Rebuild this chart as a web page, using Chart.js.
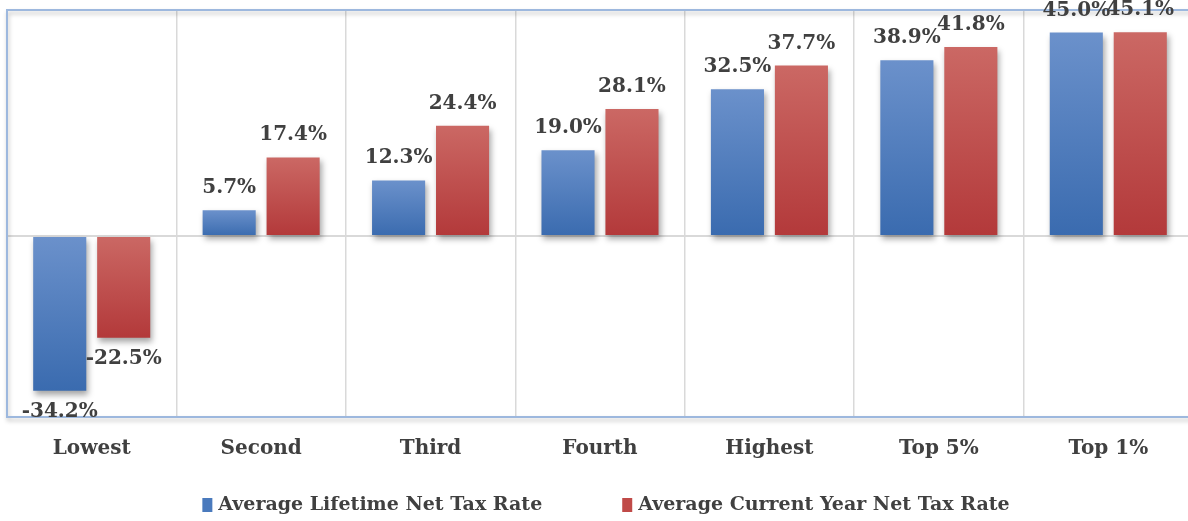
<!DOCTYPE html>
<html>
<head>
<meta charset="utf-8">
<script src="https://cdn.jsdelivr.net/npm/chart.js@4/dist/chart.umd.min.js"></script>
<style>
  html, body { margin: 0; padding: 0; background: #fff; overflow: hidden; }
  #wrap { position: absolute; left: 0; top: 0; width: 1196px; height: 521px; }
</style>
</head>
<body>
<div id="wrap"><canvas id="chart"></canvas></div>
<script>
// income groups
const groups = ['Lowest', 'Second', 'Third', 'Fourth', 'Highest', 'Top 5%', 'Top 1%'];
const seriesNames = ['Average Lifetime Net Tax Rate', 'Average Current Year Net Tax Rate'];
const lifetimeRate = [-34.2, 5.7, 12.3, 19.0, 32.5, 38.9, 45.0];
const currentRate = [-22.5, 17.4, 24.4, 28.1, 37.7, 41.8, 45.1];
const legendColors = ['#4a7abd', '#c04a48'];

const FONT = '"DejaVu Serif", serif';
const TEXT = '#404040';

function barGradient(top, bottom) {
    return function(context) {
        const chart = context.chart;
        const y = chart.scales.y;
        if (!chart.chartArea || !y || context.parsed === undefined) return bottom;
        const v = context.parsed.y;
        const y1 = y.getPixelForValue(Math.max(v, 0));
        const y2 = y.getPixelForValue(Math.min(v, 0));
        if (!isFinite(y1) || !isFinite(y2) || y1 === y2) return bottom;
        const g = chart.ctx.createLinearGradient(0, y1, 0, y2);
        g.addColorStop(0, top);
        g.addColorStop(1, bottom);
        return g;
    };
}

const shadowPlugin = {
    id: 'barShadow',
    beforeDatasetDraw(chart) {
        const ctx = chart.ctx;
        ctx.save();
        ctx.shadowColor = 'rgba(0,0,0,0.35)';
        ctx.shadowBlur = 6;
        ctx.shadowOffsetX = 2;
        ctx.shadowOffsetY = 4;
    },
    afterDatasetDraw(chart) {
        chart.ctx.restore();
    }
};

const framePlugin = {
    id: 'frame',
    beforeDatasetsDraw(chart) {
        const { ctx, chartArea: a } = chart;
        ctx.save();
        ctx.shadowColor = 'rgba(0,0,0,0.25)';
        ctx.shadowBlur = 4;
        ctx.shadowOffsetX = 1;
        ctx.shadowOffsetY = 3;
        ctx.strokeStyle = '#9db8de';
        ctx.lineWidth = 2;
        ctx.strokeRect(a.left, a.top, a.right - a.left, a.bottom - a.top);
        ctx.restore();
    }
};

const labelPlugin = {
    id: 'valueLabels',
    afterDatasetsDraw(chart) {
        const ctx = chart.ctx;
        ctx.save();
        ctx.font = 'bold 20px ' + FONT;
        ctx.fillStyle = TEXT;
        ctx.textAlign = 'center';
        chart.data.datasets.forEach((ds, i) => {
            chart.getDatasetMeta(i).data.forEach((el, j) => {
                const v = ds.data[j];
                const txt = v.toFixed(1) + '%';
                if (v >= 0) {
                    ctx.textBaseline = 'alphabetic';
                    ctx.fillText(txt, el.x, el.y - 17);
                } else {
                    ctx.textBaseline = 'top';
                    ctx.fillText(txt, el.x, el.y + 11);
                }
            });
        });
        ctx.restore();
    }
};

// legend drawn by hand so the gap between entries can be wider than its height
const legendPlugin = {
    id: 'bottomLegend',
    afterDraw(chart) {
        const { ctx, chartArea: a } = chart;
        ctx.save();
        ctx.font = 'bold 19px ' + FONT;
        const gapText = 6, gapItem = 80, box = 10;
        const widths = seriesNames.map(n => ctx.measureText(n).width);
        const total = widths.reduce((s, w) => s + w, 0) + seriesNames.length * (box + gapText) + gapItem;
        let x = (a.left + a.right) / 2 - total / 2 + 6;
        const cy = 505;
        ctx.textBaseline = 'middle';
        seriesNames.forEach((n, i) => {
            ctx.fillStyle = legendColors[i];
            ctx.fillRect(x, cy - 7, box, 14);
            x += box + gapText;
            ctx.fillStyle = TEXT;
            ctx.fillText(n, x, cy);
            x += widths[i] + gapItem;
        });
        ctx.restore();
    }
};

new Chart(document.getElementById('chart'), {
    type: 'bar',
    data: {
        labels: groups,
        datasets: [{
            label: seriesNames[0],
            data: lifetimeRate,
            backgroundColor: barGradient('#6b91cb', '#3a6baf'),
            borderWidth: 0
        }, {
            label: seriesNames[1],
            data: currentRate,
            backgroundColor: barGradient('#cb6864', '#b3393a'),
            borderWidth: 0
        }]
    },
    options: {
        responsive: true,
        maintainAspectRatio: false,
        animation: false,
        categoryPercentage: 0.755,
        barPercentage: 0.83,
        layout: {
            padding: { top: 10, left: 7, right: 3, bottom: 40 }
        },
        plugins: {
            legend: { display: false },
            tooltip: { enabled: false }
        },
        scales: {
            x: {
                grid: {
                    color: '#d9d9d9',
                    lineWidth: 1.5,
                    drawTicks: false
                },
                border: { display: false },
                ticks: {
                    color: TEXT,
                    padding: 20,
                    font: { family: FONT, size: 20, weight: 'bold' }
                }
            },
            y: {
                min: -40,
                max: 50,
                grid: {
                    drawTicks: false,
                    lineWidth: 2,
                    color: ctx => ctx.tick && ctx.tick.value === 0 ? '#d9d9d9' : 'rgba(0,0,0,0)'
                },
                border: { display: false },
                ticks: { display: false, stepSize: 10 }
            }
        }
    },
    plugins: [shadowPlugin, framePlugin, labelPlugin, legendPlugin]
});
</script>
</body>
</html>
